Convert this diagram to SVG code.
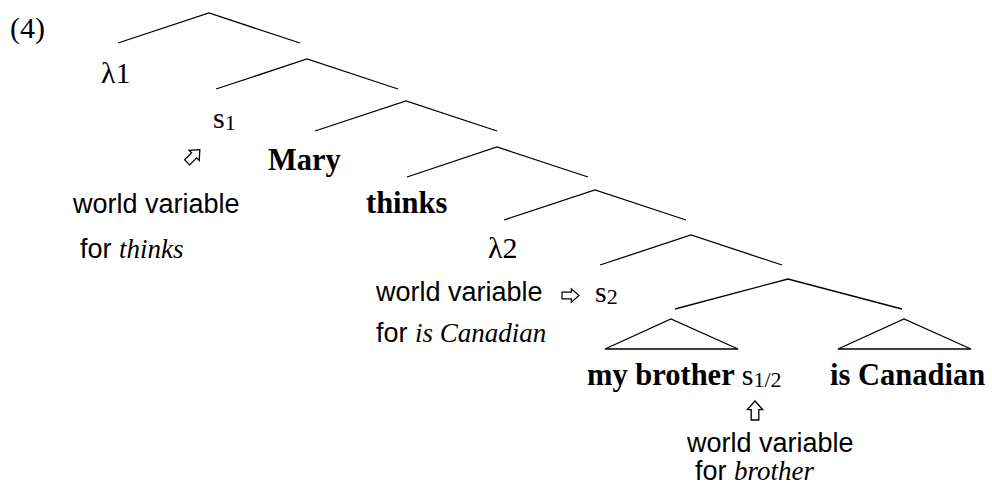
<svg xmlns="http://www.w3.org/2000/svg" xmlns:xlink="http://www.w3.org/1999/xlink" width="992" height="487" viewBox="0 0 992 487">
<style>
.ser{font-family:"Liberation Serif","Times New Roman",serif;font-size:30px;fill:#000}
.bold{font-family:"Liberation Serif","Times New Roman",serif;font-size:30.5px;font-weight:bold;fill:#000}
.sans{font-family:"Liberation Sans",Arial,sans-serif;font-size:27px;fill:#000}
.it{font-family:"Liberation Serif","Times New Roman",serif;font-style:italic;font-size:27px}
.sub{font-size:22px}
.br{fill:none;stroke:#000;stroke-width:1.3}
.arr{fill:#fff;stroke:#000;stroke-width:1.4;stroke-linejoin:miter}
</style>
<defs>
<path id="uparrow" d="M0,-10 L8,-1 L4,-1 L4,10 L-4,10 L-4,-1 L-8,-1 Z"/>
</defs>
<rect width="992" height="487" fill="#fff"/>
<g id="connectors">
<polyline class="br" points="118,43 209,13 300,43"/>
<polyline class="br" points="216,89 307,59 398,89"/>
<polyline class="br" points="315,131 406,101 497,131"/>
<polyline class="br" points="407,177 497,147 588,177"/>
<polyline class="br" points="504,220 595,190 686,220"/>
<polyline class="br" points="600,265 691,235 782,265"/>
<polyline class="br" points="675,309 788,279 902,309"/>
<polygon class="br" points="605,349 671,319 738,349"/>
<polygon class="br" points="838,349 904,319 971,349"/>
</g>
<g id="label4"><text class="ser" x="10" y="38">(4)</text></g>
<g id="lambda1"><text class="ser" x="101" y="83">λ1</text></g>
<g id="s1"><text class="ser" x="213" y="128">s<tspan class="sub" dy="2">1</tspan></text></g>
<g id="arrow1"><use xlink:href="#uparrow" class="arr" transform="translate(193.5,156) rotate(45) scale(0.9)"/></g>
<g id="mary"><text class="bold" x="268" y="170">Mary</text></g>
<g id="note1">
<text class="sans" x="73" y="213">world variable</text>
<text class="sans" x="80" y="258">for <tspan class="it">thinks</tspan></text>
</g>
<g id="thinks"><text class="bold" x="366" y="213">thinks</text></g>
<g id="lambda2"><text class="ser" x="488" y="258">λ2</text></g>
<g id="note2">
<text class="sans" x="376" y="301">world variable</text>
<text class="sans" x="376" y="342">for <tspan class="it">is Canadian</tspan></text>
</g>
<g id="arrow2"><use xlink:href="#uparrow" class="arr" transform="translate(570.5,295.5) rotate(90) scale(0.85)"/></g>
<g id="s2"><text class="ser" x="595" y="302">s<tspan class="sub" dy="2">2</tspan></text></g>
<g id="mybrother"><text class="bold" x="587" y="385">my brother <tspan class="ser" font-weight="normal">s</tspan><tspan class="ser sub" font-weight="normal" dy="2">1/2</tspan></text></g>
<g id="iscanadian"><text class="bold" x="830" y="385">is Canadian</text></g>
<g id="arrow3"><use xlink:href="#uparrow" class="arr" transform="translate(755,410.5) scale(0.95)"/></g>
<g id="note3">
<text class="sans" x="687" y="452">world variable</text>
<text class="sans" x="695" y="480">for <tspan class="it">brother</tspan></text>
</g>
</svg>
